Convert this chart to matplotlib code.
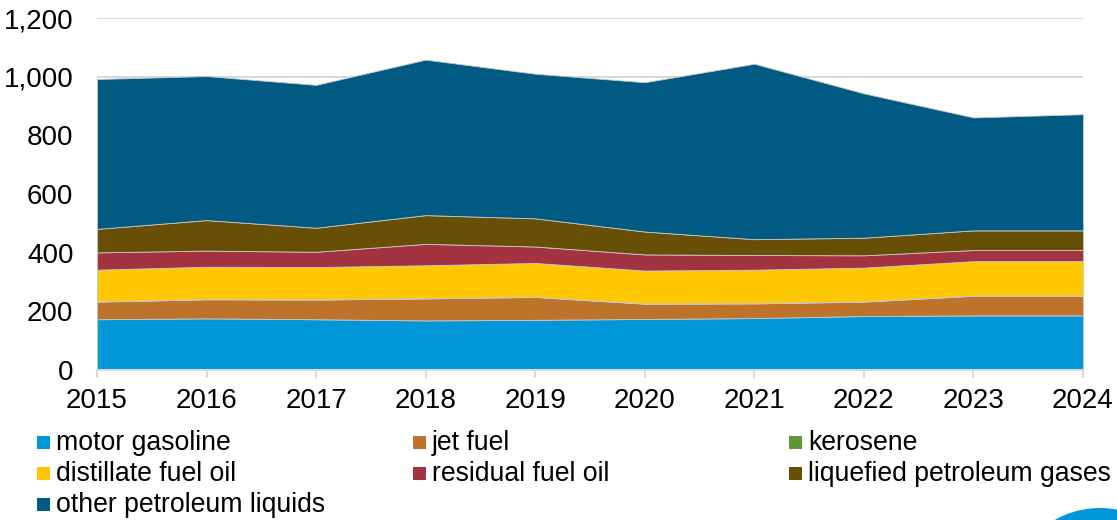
import numpy as np
import matplotlib.pyplot as plt
from matplotlib.patches import Rectangle, Circle

plt.rcParams["font.family"] = ["Liberation Sans", "DejaVu Sans"]

# --- data (stacked, per layer) ---
years = [2015, 2016, 2017, 2018, 2019, 2020, 2021, 2022, 2023, 2024]

motor_gasoline   = [173, 176, 173, 169, 171, 174, 177, 184, 186, 186]
jet_fuel         = [60, 65, 67, 75, 78, 52, 50, 49, 67, 67]
kerosene         = [1, 1, 1, 1, 1, 1, 1, 1, 1, 1]
distillate       = [108, 110, 110, 112, 115, 112, 114, 115, 117, 117]
residual         = [59, 55, 52, 73, 56, 55, 50, 42, 38, 38]
lpg              = [80, 104, 82, 98, 96, 78, 54, 60, 67, 67]
other_liquids    = [511, 491, 487, 530, 493, 509, 598, 492, 385, 396]

series_names = ["motor gasoline", "jet fuel", "kerosene",
                "distillate fuel oil", "residual fuel oil",
                "liquefied petroleum gases", "other petroleum liquids"]
series_colors = ["#0096D7", "#BD732A", "#5D9732", "#FFC700",
                 "#A33340", "#674F06", "#005A81"]

y_ticks = [0, 200, 400, 600, 800, 1000, 1200]

W, H = 1117, 520
fig = plt.figure(figsize=(W / 100, H / 100), dpi=100)
ax = fig.add_axes([97 / W, 1 - 370 / H, (1083 - 97) / W, (370 - 18) / H])

stacks = [motor_gasoline, jet_fuel, kerosene, distillate, residual, lpg, other_liquids]
ax.stackplot(years, *stacks, colors=series_colors, linewidth=0.6,
             edgecolor="#c8c8c8", zorder=2)

ax.set_xlim(years[0], years[-1])
ax.set_ylim(0, 1200)
ax.set_yticks(y_ticks)
ax.set_yticklabels([f"{v:,}" for v in y_ticks])
ax.set_xticks(years)
ax.yaxis.grid(True, color="#d9d9d9", linewidth=1.5, zorder=0)
ax.set_axisbelow(True)
for s in ["top", "right", "left"]:
    ax.spines[s].set_visible(False)
ax.spines["bottom"].set_color("#d9d9d9")
ax.spines["bottom"].set_linewidth(1.5)
ax.spines["bottom"].set_zorder(3)
ax.tick_params(axis="y", length=0, pad=17, labelsize=20, labelcolor="#000000")
ax.tick_params(axis="x", length=6, width=1.5, color="#d9d9d9", pad=7,
               labelsize=20, labelcolor="#000000")

# legend laid out row by row in three columns
col_x = [37, 413, 789]
row_y = [442, 473, 504]
for i, (name, col) in enumerate(zip(series_names, series_colors)):
    r, c = divmod(i, 3)
    x0, yc = col_x[c], row_y[r]
    fig.add_artist(Rectangle((x0 / W, 1 - (yc + 6.5) / H), 13 / W, 13 / H,
                             transform=fig.transFigure, facecolor=col,
                             edgecolor="none"))
    fig.text((x0 + 19) / W, 1 - (yc + 1) / H, name, fontsize=19.2,
             va="center", ha="left", color="#000000")

# partial logo circle in the bottom-right corner (pixel coords, origin bottom-left)
fig.add_artist(Circle((1100, H - 600), 92, transform=None,
                      facecolor="#0096D7", edgecolor="none"))

fig.savefig("out.png", dpi=100)
